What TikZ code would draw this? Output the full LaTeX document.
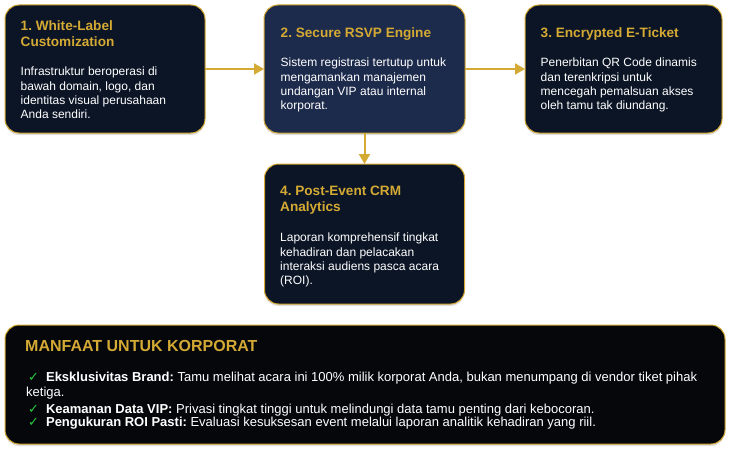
\documentclass[tikz,border=0pt]{standalone}
\usepackage{fontspec}
\setmainfont{Liberation Sans}
\newfontfamily\symfont{DejaVu Sans}
\usetikzlibrary{arrows.meta,positioning,shadows}
\definecolor{gold}{RGB}{212,170,52}
\definecolor{inkbg}{RGB}{12,21,38}
\definecolor{navybg}{RGB}{28,42,75}
\definecolor{blackbg}{RGB}{5,7,11}
\definecolor{okgreen}{RGB}{40,200,60}
\newcommand{\tick}{{\symfont\fontsize{13}{14}\selectfont\textcolor{okgreen}{✓}}}
\frenchspacing

\begin{document}
\begin{tikzpicture}[x=1pt, y=-1pt,
    card/.style={rectangle, draw=gold, line width=1pt, rounded corners=14pt, minimum width=200pt, minimum height=128pt, inner sep=0pt, outer sep=0pt, drop shadow={shadow xshift=0pt, shadow yshift=-2pt, opacity=0.25}},
    ttl/.style={anchor=base west, inner sep=0pt, align=left, text=gold, font=\bfseries\fontsize{13.6}{16.8}\selectfont},
    txt/.style={anchor=base west, inner sep=0pt, align=left, text=white, font=\fontsize{12}{14.3}\selectfont},
    item/.style={anchor=base west, inner sep=0pt, align=left, text=white, font=\fontsize{13}{14.3}\selectfont},
    arr/.style={-{Triangle[length=10pt, width=11pt]}, line width=2pt, draw=gold},
  ]
  \useasboundingbox (0,0) rectangle (731,452);

  % the four steps (text nodes sit on the baseline of their last line)
  \node[card, fill=inkbg] (wl) at (105,69) {};
  \node[card, fill=navybg, minimum width=201pt, right=59pt of wl] (rsvp) {};
  \node[card, fill=inkbg, minimum width=197pt, right=60pt of rsvp] (etk) {};
  \node[card, fill=inkbg, minimum height=140pt, below=31pt of rsvp] (crm) {};

  \node[ttl] (wlT) at (20.5,46.8) {1. White-Label\\Customization};
  \node[txt] (wlD) at (20.5,118.9) {Infrastruktur beroperasi di\\bawah domain, logo, dan\\identitas visual perusahaan\\Anda sendiri.};
  \node[ttl] (rsvpT) at (280.5,37.3) {2. Secure RSVP Engine};
  \node[txt] (rsvpD) at (280.5,109.6) {Sistem registrasi tertutup untuk\\mengamankan manajemen\\undangan VIP atau internal\\korporat.};
  \node[ttl] (etkT) at (540.5,37.3) {3. Encrypted E-Ticket};
  \node[txt] (etkD) at (540.5,109.6) {Penerbitan QR Code dinamis\\dan terenkripsi untuk\\mencegah pemalsuan akses\\oleh tamu tak diundang.};
  \node[ttl] (crmT) at (280,211.8) {4. Post-Event CRM\\Analytics};
  \node[txt] (crmD) at (280,284.6) {Laporan komprehensif tingkat\\kehadiran dan pelacakan\\interaksi audiens pasca acara\\(ROI).};

  \draw[arr] (wl) -- (rsvp);
  \draw[arr] (rsvp) -- (etk);
  \draw[arr] (rsvp) -- (crm);

  % benefits panel
  \node[card, fill=blackbg, minimum width=720pt, minimum height=119pt] (gain) at (365,384.5) {};
  \node[ttl, font=\bfseries\fontsize{16}{19}\selectfont] (gainT) at (25,351.7) {MANFAAT UNTUK KORPORAT};
  \node[item] (g1) at (26,396) {\hspace*{2pt}\tick\hspace*{7pt}\textbf{Eksklusivitas Brand:} Tamu melihat acara ini 100\% milik korporat Anda, bukan menumpang di vendor tiket pihak\\ketiga.};
  \node[item] (g2) at (26,413.3) {\hspace*{2pt}\tick\hspace*{7pt}\textbf{Keamanan Data VIP:} Privasi tingkat tinggi untuk melindungi data tamu penting dari kebocoran.};
  \node[item] (g3) at (26,426.7) {\hspace*{2pt}\tick\hspace*{7pt}\textbf{Pengukuran ROI Pasti:} Evaluasi kesuksesan event melalui laporan analitik kehadiran yang riil.};
\end{tikzpicture}
\end{document}
